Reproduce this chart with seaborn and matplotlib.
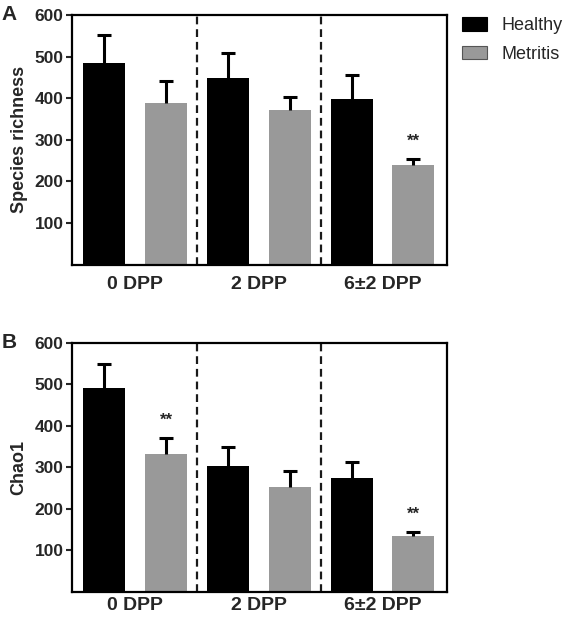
import numpy as np
import pandas as pd
import matplotlib
matplotlib.use("Agg")
import matplotlib.pyplot as plt
from matplotlib.patches import Patch
import seaborn as sns

days = ["0 DPP", "2 DPP", "6±2 DPP"]
groups = ["Healthy", "Metritis"]

# mean and upper error (SEM)
richness_healthy = [484, 448, 399]
richness_healthy_err = [68, 60, 57]
richness_metritis = [388, 372, 240]
richness_metritis_err = [52, 30, 13]

chao1_healthy = [490, 303, 274]
chao1_healthy_err = [60, 45, 39]
chao1_metritis = [333, 253, 134]
chao1_metritis_err = [37, 38, 9]

# bars marked "**" : (group, day index)
richness_stars = [("Metritis", 2)]
chao1_stars = [("Metritis", 0), ("Metritis", 2)]

colors = {"Healthy": "#000000", "Metritis": "#999999"}
yticks = [100, 200, 300, 400, 500, 600]

sns.set_style("ticks")
plt.rcParams["font.family"] = ["Liberation Sans", "DejaVu Sans"]


def draw_panel(ax, healthy, healthy_err, metritis, metritis_err, ylabel, stars,
               letter, xpad):
    df = pd.DataFrame({
        "day": days * 2,
        "group": ["Healthy"] * len(days) + ["Metritis"] * len(days),
        "value": healthy + metritis,
    })
    sns.barplot(data=df, x="day", y="value", hue="group", order=days,
                hue_order=groups, palette=colors, saturation=1, width=1.0,
                gap=0.32, errorbar=None, linewidth=0, legend=False, ax=ax)

    tops = {}
    for container, grp, err in zip(ax.containers, groups, [healthy_err, metritis_err]):
        xs = [p.get_x() + p.get_width() / 2 for p in container]
        ys = [p.get_height() for p in container]
        _, caps, _ = ax.errorbar(xs, ys, yerr=[np.zeros(len(err)), err], fmt="none",
                                 ecolor="black", elinewidth=2.2, capsize=5,
                                 capthick=2.2, zorder=3)
        caps[0].set_visible(False)  # only the upper cap
        tops[grp] = [(x, y + e) for x, y, e in zip(xs, ys, err)]

    for grp, i in stars:
        x, top = tops[grp][i]
        ax.text(x, top + 44, "**", ha="center", va="center",
                fontsize=12, fontweight="bold")

    for xv in [0.5, 1.5]:
        ax.axvline(xv, color="#1a1a1a", linestyle=(0, (3.5, 2.2)), linewidth=1.6, zorder=0)

    ax.set_xlim(-0.51, 2.52)
    ax.set_ylim(0, 600)
    ax.set_yticks(yticks)
    ax.set_xlabel("")
    ax.set_ylabel(ylabel, fontsize=13, fontweight="bold", labelpad=5)
    ax.tick_params(axis="x", length=0, pad=xpad, labelsize=14)
    ax.tick_params(axis="y", length=4, width=1.5, pad=2, labelsize=12.5)
    for lab in ax.get_xticklabels() + ax.get_yticklabels():
        lab.set_fontweight("bold")
    for s in ax.spines.values():
        s.set_visible(True)
        s.set_linewidth(1.6)
        s.set_color("black")
    ax.text(-0.187, 1.0, letter, transform=ax.transAxes, fontsize=15,
            fontweight="bold", ha="left", va="center")


fig = plt.figure(figsize=(5.66, 6.21), dpi=100)
ax_a = fig.add_axes([0.127, 0.574, 0.6625, 0.402])
ax_b = fig.add_axes([0.127, 0.047, 0.6625, 0.401])

draw_panel(ax_a, richness_healthy, richness_healthy_err, richness_metritis,
           richness_metritis_err, "Species richness", richness_stars, "A", 8.5)
draw_panel(ax_b, chao1_healthy, chao1_healthy_err, chao1_metritis,
           chao1_metritis_err, "Chao1", chao1_stars, "B", 4)

handles = [Patch(facecolor=colors["Healthy"], edgecolor="black", linewidth=0.8),
           Patch(facecolor=colors["Metritis"], edgecolor="#555555", linewidth=0.8)]
ax_a.legend(handles, groups, loc="upper left", bbox_to_anchor=(1.04, 0.99),
            frameon=False, fontsize=13, handlelength=1.4, handleheight=0.75,
            handletextpad=0.8, labelspacing=0.62, borderpad=0, borderaxespad=0)

fig.savefig("out.png", dpi=100)
